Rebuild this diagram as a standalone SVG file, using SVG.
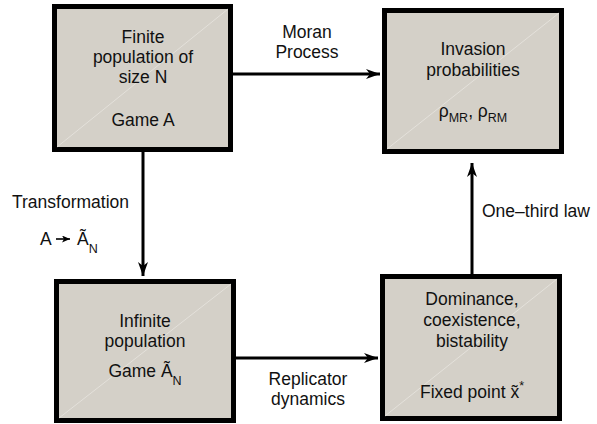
<svg xmlns="http://www.w3.org/2000/svg" width="597" height="424" viewBox="0 0 597 424">
<defs>
<style>
.box{fill:#d4d0c8;stroke:#000;stroke-width:5}
.diag{stroke:#e4e1db;stroke-width:1}
text{font-family:"Liberation Sans",Arial,Helvetica,sans-serif;font-size:17.5px;fill:#111}
.c{text-anchor:middle}
.sub{font-size:12.5px}
.conn{stroke:#000;stroke-width:3;fill:none}
</style>
<marker id="ah" markerUnits="userSpaceOnUse" markerWidth="16" markerHeight="12" refX="14" refY="5" orient="auto">
<path d="M0,0 L14,5 L0,10 L4,5 z" fill="#000"/>
</marker>
<marker id="ahs" markerUnits="userSpaceOnUse" markerWidth="10" markerHeight="8" refX="8" refY="3.5" orient="auto">
<path d="M0,0 L8,3.5 L0,7 L2,3.5 z" fill="#000"/>
</marker>
</defs>

<g id="connectors">
<path class="conn" d="M233 74 H380" marker-end="url(#ah)"/>
<path class="conn" d="M143 152 V276" marker-end="url(#ah)"/>
<path class="conn" d="M236 358 H378" marker-end="url(#ah)"/>
<path class="conn" d="M472 274 V163" marker-end="url(#ah)"/>
<text class="c" x="307" y="38">Moran</text>
<text class="c" x="307" y="58">Process</text>
<text x="12" y="208">Transformation</text>
<text x="40" y="245">A</text>
<path d="M56 239 H70" stroke="#000" stroke-width="1.6" marker-end="url(#ahs)"/>
<text x="77" y="245">Ã<tspan class="sub" dy="8">N</tspan></text>
<text class="c" x="308" y="385">Replicator</text>
<text class="c" x="308" y="405">dynamics</text>
<text x="482" y="217">One–third law</text>
</g>

<g id="finite">
<rect class="box" x="54.5" y="6.5" width="176" height="143"/>
<line class="diag" x1="57" y1="147" x2="228" y2="9"/>
<text class="c" x="143" y="43">Finite</text>
<text class="c" x="143" y="63">population of</text>
<text class="c" x="143" y="83">size N</text>
<text class="c" x="143" y="126">Game A</text>
</g>

<g id="invasion">
<rect class="box" x="384.5" y="10.5" width="177" height="141"/>
<line class="diag" x1="387" y1="149" x2="559" y2="13"/>
<text class="c" x="473" y="55">Invasion</text>
<text class="c" x="473" y="76">probabilities</text>
<text class="c" x="473" y="117">ρ<tspan class="sub" dy="5">MR</tspan><tspan dy="-5">, ρ</tspan><tspan class="sub" dy="5">RM</tspan></text>
</g>

<g id="infinite">
<rect class="box" x="56.5" y="281.5" width="177" height="139"/>
<line class="diag" x1="59" y1="418" x2="231" y2="284"/>
<text class="c" x="145" y="327">Infinite</text>
<text class="c" x="145" y="347">population</text>
<text class="c" x="145" y="377">Game Ã<tspan class="sub" dy="8">N</tspan></text>
</g>

<g id="dominance">
<rect class="box" x="382.5" y="276.5" width="177" height="142"/>
<line class="diag" x1="385" y1="416" x2="557" y2="279"/>
<text class="c" x="472" y="305">Dominance,</text>
<text class="c" x="472" y="326">coexistence,</text>
<text class="c" x="472" y="347">bistability</text>
<text class="c" x="472" y="398">Fixed point x̃<tspan class="sub" dy="-8">*</tspan></text>
</g>
</svg>
